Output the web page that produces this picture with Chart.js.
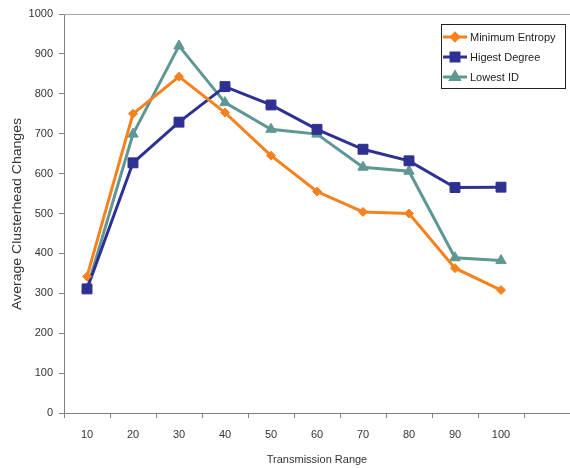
<!DOCTYPE html>
<html>
<head>
<meta charset="utf-8">
<script src="https://cdn.jsdelivr.net/npm/chart.js@4.4.1/dist/chart.umd.min.js"></script>
<style>
html,body{margin:0;padding:0;background:#fff;}
#wrap{width:570px;height:468px;position:relative;}
</style>
</head>
<body>
<div id="wrap"><canvas id="c" width="570" height="468"></canvas></div>
<script>
const categories = ['10','20','30','40','50','60','70','80','90','100',''];
const minimumEntropy = [342, 750, 843, 753, 645, 555, 504, 500, 363, 308, null];
const highestDegree  = [311, 627, 729, 818, 772, 711, 661, 632, 565, 566, null];
const lowestId       = [311, 699, 920, 778, 711, 699, 616, 606, 389, 382, null];
const yTicks = [0,100,200,300,400,500,600,700,800,900,1000];
const xTitle = 'Transmission Range';
const yTitle = 'Average Clusterhead Changes';

const ORANGE = '#F5821F', NAVY = '#2E3192', TEAL = '#5E9794';
const FONT = 'Liberation Sans, Arial, sans-serif';
const TXT = '#333333';

const framePlugin = {
  id: 'frame',
  afterDraw(chart) {
    const ctx = chart.ctx, a = chart.chartArea;
    ctx.save();
    // top line
    ctx.strokeStyle = '#A6A6A6';
    ctx.lineWidth = 1;
    ctx.beginPath();
    ctx.moveTo(a.left, a.top + 0.5);
    ctx.lineTo(a.right, a.top + 0.5);
    ctx.stroke();
    // y axis title (stretched along its length as in the reference)
    ctx.save();
    ctx.font = '12px ' + FONT;
    const w = ctx.measureText(yTitle).width;
    ctx.translate(17.5, (a.top + a.bottom) / 2 + 0.5);
    ctx.rotate(-Math.PI / 2);
    ctx.scale(192 / w, 1);
    ctx.fillStyle = TXT;
    ctx.textAlign = 'center';
    ctx.textBaseline = 'middle';
    ctx.fillText(yTitle, 0, 0);
    ctx.restore();
    // legend
    const bx = 441, by = 24, bw = 124, bh = 64;
    ctx.fillStyle = '#fff';
    ctx.fillRect(bx, by, bw, bh);
    ctx.strokeStyle = '#222';
    ctx.lineWidth = 1;
    ctx.strokeRect(bx + 0.5, by + 0.5, bw, bh);
    const ys = [37, 57, 77];
    chart.data.datasets.forEach((ds, i) => {
      const y = ys[i];
      ctx.strokeStyle = ds.borderColor;
      ctx.lineWidth = 3;
      ctx.beginPath();
      ctx.moveTo(443, y);
      ctx.lineTo(467, y);
      ctx.stroke();
      ctx.fillStyle = ds.backgroundColor;
      ctx.strokeStyle = ds.borderColor;
      Chart.helpers.drawPoint(ctx, {pointStyle: ds.pointStyle, radius: ds.pointRadius * 0.8, borderWidth: 1, rotation: 0}, 455, y);
      ctx.fillStyle = '#222';
      ctx.font = '11px ' + FONT;
      ctx.textBaseline = 'middle';
      ctx.textAlign = 'left';
      ctx.fillText(ds.label, 470, y + 1);
    });
    ctx.restore();
  }
};

new Chart(document.getElementById('c'), {
  type: 'line',
  data: {
    labels: categories,
    datasets: [
      {label: 'Minimum Entropy', data: minimumEntropy, borderColor: ORANGE, backgroundColor: ORANGE,
       pointStyle: 'rectRot', pointRadius: 4.5, borderWidth: 3, pointBorderWidth: 1},
      {label: 'Higest Degree', data: highestDegree, borderColor: NAVY, backgroundColor: NAVY,
       pointStyle: 'rect', pointRadius: 7, borderWidth: 3, pointBorderWidth: 1},
      {label: 'Lowest ID', data: lowestId, borderColor: TEAL, backgroundColor: TEAL,
       pointStyle: 'triangle', pointRadius: 6, borderWidth: 3, pointBorderWidth: 1}
    ]
  },
  options: {
    responsive: false,
    animation: false,
    devicePixelRatio: 1,
    layout: {autoPadding: false, padding: {top: 14, right: 0, bottom: 0, left: 0}},
    plugins: {legend: {display: false}, tooltip: {enabled: false}},
    elements: {line: {tension: 0}},
    scales: {
      x: {
        type: 'category',
        offset: true,
        grid: {display: true, drawOnChartArea: false, offset: true, tickLength: 5, color: '#808080'},
        border: {display: true, color: '#808080', width: 1},
        ticks: {color: TXT, font: {family: FONT, size: 11}, padding: 10, maxRotation: 0, autoSkip: false},
        title: {display: true, text: xTitle, color: TXT, font: {family: FONT, size: 11}, padding: {top: 2, bottom: 1}},
        afterFit(s) { s.height = 55; }
      },
      y: {
        min: 0, max: 1000,
        afterBuildTicks(s) { s.ticks = yTicks.map(v => ({value: v})); },
        grid: {display: true, drawOnChartArea: false, tickLength: 5, color: '#808080'},
        border: {display: true, color: '#808080', width: 1},
        ticks: {color: TXT, font: {family: FONT, size: 11}, padding: 6, callback: v => String(v)},
        title: {display: false},
        afterFit(s) { s.width = 64; }
      }
    }
  },
  plugins: [framePlugin]
});
</script>
</body>
</html>
